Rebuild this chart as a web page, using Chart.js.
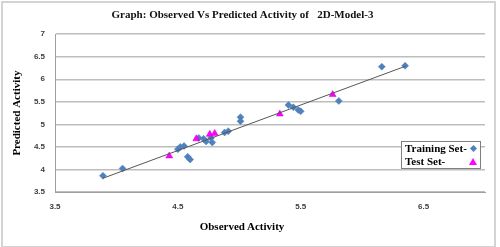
<!DOCTYPE html>
<html>
<head>
<meta charset="utf-8">
<script src="https://cdn.jsdelivr.net/npm/chart.js@4"></script>
<style>
  body { margin: 0; background: #fff; }
  #wrap { position: relative; width: 500px; height: 247px; }
  #frame { position: absolute; left: 1px; top: 1px; width: 491px; height: 243px; border: 2px solid #d4d4d4; pointer-events: none; }
  #xtitle { position: absolute; left: 0; width: 484px; top: 220px; text-align: center;
            font: bold 11px 'Liberation Serif', serif; color: #000; }
  #legend { position: absolute; left: 401px; top: 141px; width: 78px; height: 26px; background: #fff;
            border: 1px solid #7f7f7f; font: bold 11px 'Liberation Serif', serif; color: #000; }
  .row { position: relative; height: 13px; line-height: 13px; padding-left: 3px; }
  .dia { position: absolute; right: 4px; top: 4px; width: 5px; height: 5px; background: #4f81bd; transform: rotate(45deg); }
  .tri { position: absolute; right: 3px; top: 3px; width: 0; height: 0; border-left: 4px solid transparent;
         border-right: 4px solid transparent; border-bottom: 7px solid #ff00ff; }
</style>
</head>
<body>
<div id="wrap">
  <canvas id="chart" width="500" height="247"></canvas>
  <div id="frame"></div>
  <div id="xtitle">Observed Activity</div>
  <div id="legend">
    <div class="row">Training Set-<span class="dia"></span></div>
    <div class="row">Test Set-<span class="tri"></span></div>
  </div>
</div>
<script>
// Training set (observed, predicted)
const trainObserved  = [3.89, 4.05, 4.50, 4.52, 4.55, 4.58, 4.60, 4.67, 4.71, 4.73, 4.77, 4.78, 4.88, 4.91, 5.01, 5.01, 5.40, 5.44, 5.48, 5.50, 5.81, 6.16, 6.35];
const trainPredicted = [3.86, 4.02, 4.45, 4.50, 4.52, 4.28, 4.22, 4.70, 4.68, 4.62, 4.70, 4.60, 4.82, 4.85, 5.16, 5.07, 5.43, 5.38, 5.32, 5.29, 5.52, 6.28, 6.30];

// Test set (observed, predicted)
const testObserved  = [4.43, 4.65, 4.76, 4.80, 5.33, 5.76];
const testPredicted = [4.30, 4.68, 4.78, 4.80, 5.23, 5.66];

// Axis ticks
const xTicks = [3.5, 4.5, 5.5, 6.5];
const yTicks = [3.5, 4, 4.5, 5, 5.5, 6, 6.5, 7];

function toPoints(xs, ys) {
  return xs.map((x, i) => ({ x: x, y: ys[i] }));
}

// Least-squares trendline over the training set
function trendline(xs, ys) {
  const n = xs.length;
  const mx = xs.reduce((a, b) => a + b, 0) / n;
  const my = ys.reduce((a, b) => a + b, 0) / n;
  let sxy = 0, sxx = 0;
  for (let i = 0; i < n; i++) {
    sxy += (xs[i] - mx) * (ys[i] - my);
    sxx += (xs[i] - mx) * (xs[i] - mx);
  }
  const slope = sxy / sxx;
  const icpt = my - slope * mx;
  const x0 = Math.min(...xs), x1 = Math.max(...xs);
  return [{ x: x0, y: icpt + slope * x0 }, { x: x1, y: icpt + slope * x1 }];
}

const tickFont = { family: 'Liberation Sans', size: 8, weight: 'bold' };
const titleFont = { family: 'Liberation Serif', size: 11, weight: 'bold' };

new Chart(document.getElementById('chart'), {
  type: 'scatter',
  data: {
    datasets: [
      {
        type: 'line',
        label: 'Trend',
        data: trendline(trainObserved, trainPredicted),
        borderColor: '#555555',
        borderWidth: 1,
        pointRadius: 0,
        fill: false
      },
      {
        label: 'Test Set-',
        data: toPoints(testObserved, testPredicted),
        pointStyle: 'triangle',
        pointRadius: 4,
        backgroundColor: '#ff00ff',
        borderColor: '#cc00cc',
        borderWidth: 0.5
      },
      {
        label: 'Training Set-',
        data: toPoints(trainObserved, trainPredicted),
        pointStyle: 'rectRot',
        pointRadius: 3.5,
        backgroundColor: '#4f81bd',
        borderColor: '#4f81bd',
        borderWidth: 0.5
      }
    ]
  },
  options: {
    responsive: false,
    animation: false,
    devicePixelRatio: 1,
    layout: { padding: { top: 0, right: 15, bottom: 0, left: 0 } },
    plugins: {
      legend: { display: false },
      tooltip: { enabled: false },
      title: {
        display: true,
        text: 'Graph: Observed Vs Predicted Activity of   2D-Model-3',
        font: titleFont,
        color: '#111',
        padding: { top: 9, bottom: 12 }
      }
    },
    scales: {
      x: {
        type: 'linear',
        min: 3.5,
        max: 7,
        afterFit: function(scale) { scale.height = 55; },
        afterBuildTicks: function(scale) { scale.ticks = xTicks.map(v => ({ value: v })); },
        grid: { display: false, drawTicks: false },
        border: { display: true, color: '#a0a0a0', width: 1 },
        ticks: { font: tickFont, color: '#404040', padding: 10, maxRotation: 0,
                 callback: function(value) { return String(value); } }
      },
      y: {
        type: 'linear',
        min: 3.5,
        max: 7,
        afterFit: function(scale) { scale.width = 55; },
        afterBuildTicks: function(scale) { scale.ticks = yTicks.map(v => ({ value: v })); },
        grid: { color: '#bdbdbd', lineWidth: 1.5, drawTicks: false },
        border: { display: true, color: '#a0a0a0', width: 1 },
        ticks: { font: tickFont, color: '#404040', padding: 10,
                 callback: function(value) { return String(value); } },
        title: {
          display: true,
          text: 'Predicted Activity',
          font: titleFont,
          color: '#000',
          padding: { top: 11, bottom: 0 }
        }
      }
    }
  }
});
</script>
</body>
</html>
